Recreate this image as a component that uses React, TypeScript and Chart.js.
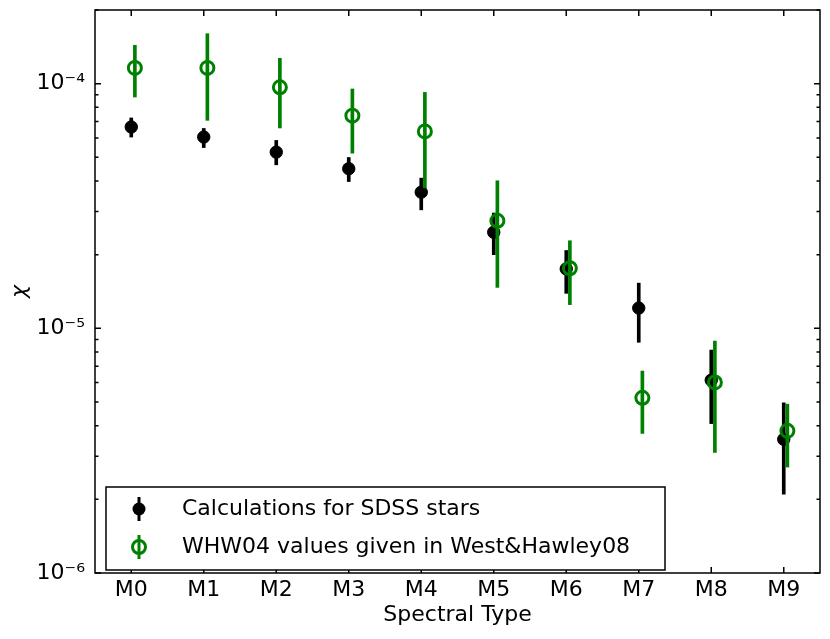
import React, { useEffect, useRef } from 'react';
import { Chart, registerables } from 'chart.js';

Chart.register(...registerables);

// spectral types on the x axis
const spectralTypes = ['M0', 'M1', 'M2', 'M3', 'M4', 'M5', 'M6', 'M7', 'M8', 'M9'];

// Calculations for SDSS stars (black)
const sdssChi = [6.65e-5, 6.05e-5, 5.25e-5, 4.49e-5, 3.6e-5, 2.47e-5, 1.75e-5, 1.21e-5, 6.14e-6, 3.52e-6];
const sdssLow = [6.05e-5, 5.48e-5, 4.66e-5, 3.98e-5, 3.05e-5, 2.0e-5, 1.39e-5, 8.77e-6, 4.08e-6, 2.1e-6];
const sdssHigh = [7.24e-5, 6.56e-5, 5.86e-5, 4.99e-5, 4.11e-5, 2.96e-5, 2.08e-5, 1.53e-5, 8.15e-6, 4.96e-6];

// WHW04 values given in West&Hawley08 (green)
const whwChi = [1.16e-4, 1.16e-4, 9.66e-5, 7.4e-5, 6.38e-5, 2.75e-5, 1.76e-5, 5.2e-6, 6.01e-6, 3.81e-6];
const whwLow = [8.82e-5, 7.08e-5, 6.59e-5, 5.2e-5, 3.75e-5, 1.47e-5, 1.25e-5, 3.72e-6, 3.11e-6, 2.71e-6];
const whwHigh = [1.435e-4, 1.6e-4, 1.27e-4, 9.51e-5, 9.21e-5, 4.01e-5, 2.28e-5, 6.69e-6, 8.87e-6, 4.9e-6];
const whwOffset = 0.05;

const yTicks = [1e-6, 1e-5, 1e-4];
const yTickLabels = ['10⁻⁶', '10⁻⁵', '10⁻⁴'];
const yMin = 1e-6;
const yMax = 2e-4;

const legendLabels = ['Calculations for SDSS stars', 'WHW04 values given in West&Hawley08'];

const GREEN = '#008000';
const FONT = 'DejaVu Sans';

const framePlugin = {
  id: 'frame',
  afterDatasetsDraw(chart: any) {
    const { ctx, chartArea: a, scales } = chart;
    ctx.save();
    ctx.strokeStyle = '#000';
    ctx.lineWidth = 1.5;
    ctx.strokeRect(a.left, a.top, a.right - a.left, a.bottom - a.top);

    // inward ticks on all four sides
    ctx.beginPath();
    spectralTypes.forEach((_, i) => {
      const x = scales.x.getPixelForValue(i);
      ctx.moveTo(x, a.bottom);
      ctx.lineTo(x, a.bottom - 6);
      ctx.moveTo(x, a.top);
      ctx.lineTo(x, a.top + 6);
    });
    yTicks.forEach((t) => {
      for (let m = 1; m <= 9; m++) {
        const v = t * m;
        if (v > yMax) break;
        const y = scales.y.getPixelForValue(v);
        const len = m === 1 ? 6 : 3.5;
        ctx.moveTo(a.left, y);
        ctx.lineTo(a.left + len, y);
        ctx.moveTo(a.right, y);
        ctx.lineTo(a.right - len, y);
      }
    });
    ctx.stroke();

    // legend box in lower left
    const bx = a.left + 11;
    const by = a.bottom - 86;
    const bw = 559;
    const bh = 83;
    ctx.fillStyle = '#fff';
    ctx.fillRect(bx, by, bw, bh);
    ctx.strokeRect(bx, by, bw, bh);

    const mx = bx + 33;
    const rows = [by + 22, by + 60];
    ctx.lineWidth = 3;
    // black entry
    ctx.strokeStyle = '#000';
    ctx.beginPath();
    ctx.moveTo(mx, rows[0] - 12);
    ctx.lineTo(mx, rows[0] + 12);
    ctx.stroke();
    ctx.fillStyle = '#000';
    ctx.beginPath();
    ctx.arc(mx, rows[0], 6.5, 0, Math.PI * 2);
    ctx.fill();
    // green entry
    ctx.strokeStyle = GREEN;
    ctx.beginPath();
    ctx.moveTo(mx, rows[1] - 12);
    ctx.lineTo(mx, rows[1] + 12);
    ctx.stroke();
    ctx.beginPath();
    ctx.arc(mx, rows[1], 6.5, 0, Math.PI * 2);
    ctx.stroke();

    ctx.fillStyle = '#000';
    ctx.font = `22px "${FONT}"`;
    ctx.textBaseline = 'middle';
    ctx.textAlign = 'left';
    legendLabels.forEach((label, i) => ctx.fillText(label, bx + 76, rows[i]));
    ctx.restore();
  },
};

const App: React.FC = () => {
  const canvasRef = useRef<HTMLCanvasElement>(null);

  useEffect(() => {
    document.body.style.margin = '0';
    if (!canvasRef.current) return;

    const chart = new Chart(canvasRef.current, {
      type: 'scatter',
      data: {
        datasets: [
          {
            type: 'bar',
            data: spectralTypes.map((_, i) => ({ x: i, y: [sdssLow[i], sdssHigh[i]] })),
            backgroundColor: '#000',
            barThickness: 3,
            grouped: false,
            borderWidth: 0,
            order: 4,
          } as any,
          {
            data: spectralTypes.map((_, i) => ({ x: i, y: sdssChi[i] })),
            pointRadius: 6.2,
            pointBackgroundColor: '#000',
            pointBorderColor: '#000',
            pointBorderWidth: 1,
            order: 3,
          },
          {
            type: 'bar',
            data: spectralTypes.map((_, i) => ({ x: i + whwOffset, y: [whwLow[i], whwHigh[i]] })),
            backgroundColor: GREEN,
            barThickness: 3,
            grouped: false,
            borderWidth: 0,
            order: 2,
          } as any,
          {
            data: spectralTypes.map((_, i) => ({ x: i + whwOffset, y: whwChi[i] })),
            pointRadius: 6.5,
            pointBackgroundColor: 'rgba(0,0,0,0)',
            pointBorderColor: GREEN,
            pointBorderWidth: 3,
            order: 1,
          },
        ],
      },
      options: {
        responsive: true,
        maintainAspectRatio: false,
        animation: false,
        layout: { padding: { top: 10, right: 10, left: 0, bottom: 0 } },
        plugins: {
          legend: { display: false },
          tooltip: { enabled: false },
        },
        scales: {
          x: {
            type: 'linear',
            min: -0.5,
            max: 9.5,
            offset: false,
            grid: { display: false, drawTicks: false },
            border: { display: false },
            afterBuildTicks: (scale: any) => {
              scale.ticks = spectralTypes.map((_, i) => ({ value: i }));
            },
            afterFit: (scale: any) => {
              scale.height = 66;
              scale.paddingLeft = 0;
              scale.paddingRight = 0;
            },
            ticks: {
              padding: 4,
              color: '#000',
              font: { family: FONT, size: 22 },
              maxRotation: 0,
              autoSkip: false,
              callback: (v: any) => spectralTypes[v as number] ?? '',
            },
            title: {
              display: true,
              text: 'Spectral Type',
              color: '#000',
              font: { family: FONT, size: 22 },
              padding: { top: 0, bottom: 11 },
            },
          },
          y: {
            type: 'logarithmic',
            min: yMin,
            max: yMax,
            grid: { display: false, drawTicks: false },
            border: { display: false },
            afterBuildTicks: (scale: any) => {
              scale.ticks = yTicks.map((v) => ({ value: v }));
            },
            afterFit: (scale: any) => {
              scale.width = 95;
              scale.paddingTop = 0;
              scale.paddingBottom = 0;
            },
            ticks: {
              padding: 10,
              color: '#000',
              font: { family: FONT, size: 22 },
              autoSkip: false,
              callback: (v: any) => {
                const idx = yTicks.findIndex((t) => Math.abs(t - v) / t < 1e-6);
                return idx >= 0 ? yTickLabels[idx] : '';
              },
            },
            title: {
              display: true,
              text: 'χ',
              color: '#000',
              font: { family: FONT, size: 22, style: 'italic' },
              padding: { top: 7, bottom: 0 },
            },
          },
        },
      },
      plugins: [framePlugin],
    });

    return () => chart.destroy();
  }, []);

  return (
    <div style={{ width: 830, height: 639, position: 'relative' }}>
      <canvas ref={canvasRef} />
    </div>
  );
};

export default App;
